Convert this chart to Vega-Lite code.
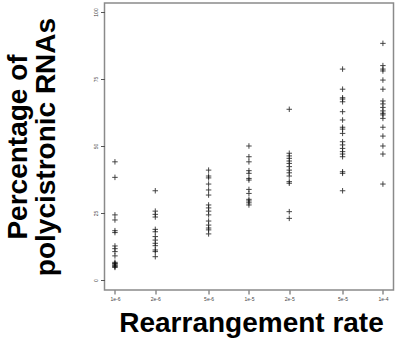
{
  "$schema": "https://vega.github.io/schema/vega-lite/v6.json",
  "width": 289,
  "height": 287,
  "autosize": {"type": "none"},
  "padding": {"left": 104.5, "top": 3, "right": 2.5, "bottom": 50},
  "background": "white",
  "config": {
    "view": {"stroke": "#8a8a8a", "strokeWidth": 1.5},
    "font": "Liberation Sans"
  },
  "data": {
    "values": [
      {"rate": 1e-6, "pct": 44.1}, {"rate": 1e-6, "pct": 38.3}, {"rate": 1e-6, "pct": 24.3}, {"rate": 1e-6, "pct": 22.4},
      {"rate": 1e-6, "pct": 18.4}, {"rate": 1e-6, "pct": 17.7}, {"rate": 1e-6, "pct": 12.7}, {"rate": 1e-6, "pct": 11.7},
      {"rate": 1e-6, "pct": 10.6}, {"rate": 1e-6, "pct": 9.0}, {"rate": 1e-6, "pct": 6.6}, {"rate": 1e-6, "pct": 6.2},
      {"rate": 1e-6, "pct": 6.0}, {"rate": 1e-6, "pct": 5.6}, {"rate": 1e-6, "pct": 5.3}, {"rate": 1e-6, "pct": 5.0},
      {"rate": 1e-6, "pct": 4.7},
      {"rate": 2e-6, "pct": 33.3}, {"rate": 2e-6, "pct": 25.7}, {"rate": 2e-6, "pct": 24.5}, {"rate": 2e-6, "pct": 23.5},
      {"rate": 2e-6, "pct": 18.9}, {"rate": 2e-6, "pct": 18.0}, {"rate": 2e-6, "pct": 16.2}, {"rate": 2e-6, "pct": 14.9},
      {"rate": 2e-6, "pct": 13.7}, {"rate": 2e-6, "pct": 12.8}, {"rate": 2e-6, "pct": 11.2}, {"rate": 2e-6, "pct": 10.6},
      {"rate": 2e-6, "pct": 8.7},
      {"rate": 5e-6, "pct": 41.0}, {"rate": 5e-6, "pct": 38.8}, {"rate": 5e-6, "pct": 38.1}, {"rate": 5e-6, "pct": 35.8},
      {"rate": 5e-6, "pct": 33.6}, {"rate": 5e-6, "pct": 31.7}, {"rate": 5e-6, "pct": 28.0}, {"rate": 5e-6, "pct": 26.9},
      {"rate": 5e-6, "pct": 25.7}, {"rate": 5e-6, "pct": 24.3}, {"rate": 5e-6, "pct": 22.0}, {"rate": 5e-6, "pct": 20.5},
      {"rate": 5e-6, "pct": 19.4}, {"rate": 5e-6, "pct": 18.7}, {"rate": 5e-6, "pct": 17.2},
      {"rate": 1e-5, "pct": 50.0}, {"rate": 1e-5, "pct": 46.0}, {"rate": 1e-5, "pct": 44.1}, {"rate": 1e-5, "pct": 40.8},
      {"rate": 1e-5, "pct": 39.8}, {"rate": 1e-5, "pct": 37.9}, {"rate": 1e-5, "pct": 37.3}, {"rate": 1e-5, "pct": 33.8},
      {"rate": 1e-5, "pct": 32.3}, {"rate": 1e-5, "pct": 30.1}, {"rate": 1e-5, "pct": 29.5}, {"rate": 1e-5, "pct": 28.8},
      {"rate": 1e-5, "pct": 28.0},
      {"rate": 2e-5, "pct": 63.7}, {"rate": 2e-5, "pct": 47.3}, {"rate": 2e-5, "pct": 46.3}, {"rate": 2e-5, "pct": 45.4},
      {"rate": 2e-5, "pct": 44.4}, {"rate": 2e-5, "pct": 43.5}, {"rate": 2e-5, "pct": 42.3}, {"rate": 2e-5, "pct": 41.0},
      {"rate": 2e-5, "pct": 40.0}, {"rate": 2e-5, "pct": 38.8}, {"rate": 2e-5, "pct": 36.7}, {"rate": 2e-5, "pct": 36.1},
      {"rate": 2e-5, "pct": 25.5}, {"rate": 2e-5, "pct": 23.0},
      {"rate": 5e-5, "pct": 78.7}, {"rate": 5e-5, "pct": 71.2}, {"rate": 5e-5, "pct": 68.0}, {"rate": 5e-5, "pct": 67.5},
      {"rate": 5e-5, "pct": 66.5}, {"rate": 5e-5, "pct": 62.8}, {"rate": 5e-5, "pct": 59.7}, {"rate": 5e-5, "pct": 57.0},
      {"rate": 5e-5, "pct": 56.3}, {"rate": 5e-5, "pct": 54.7}, {"rate": 5e-5, "pct": 51.6}, {"rate": 5e-5, "pct": 50.4},
      {"rate": 5e-5, "pct": 49.1}, {"rate": 5e-5, "pct": 47.9}, {"rate": 5e-5, "pct": 47.0}, {"rate": 5e-5, "pct": 46.0},
      {"rate": 5e-5, "pct": 40.4}, {"rate": 5e-5, "pct": 39.8}, {"rate": 5e-5, "pct": 33.3},
      {"rate": 1e-4, "pct": 88.3}, {"rate": 1e-4, "pct": 80.0}, {"rate": 1e-4, "pct": 78.7}, {"rate": 1e-4, "pct": 78.0},
      {"rate": 1e-4, "pct": 74.6}, {"rate": 1e-4, "pct": 71.2}, {"rate": 1e-4, "pct": 66.8}, {"rate": 1e-4, "pct": 65.7},
      {"rate": 1e-4, "pct": 64.4}, {"rate": 1e-4, "pct": 63.1}, {"rate": 1e-4, "pct": 62.2}, {"rate": 1e-4, "pct": 61.6},
      {"rate": 1e-4, "pct": 60.3}, {"rate": 1e-4, "pct": 57.0}, {"rate": 1e-4, "pct": 53.7}, {"rate": 1e-4, "pct": 50.0},
      {"rate": 1e-4, "pct": 47.0}, {"rate": 1e-4, "pct": 35.8}
    ]
  },
  "mark": {
    "type": "point",
    "shape": "M-1,0H1M0,-1V1",
    "size": 30,
    "filled": false,
    "stroke": "#111111",
    "strokeWidth": 0.9,
    "opacity": 0.85
  },
  "encoding": {
    "x": {
      "field": "rate",
      "type": "quantitative",
      "scale": {"type": "log", "domain": [8.356e-7, 1.1995e-4], "nice": false},
      "axis": {
        "title": "Rearrangement rate",
        "titleFont": "Liberation Sans",
        "titleFontSize": 28,
        "titleFontWeight": "bold",
        "titleColor": "#000000",
        "titleBaseline": "alphabetic",
        "titleY": 41,
        "titleX": 146.5,
        "values": [1e-6, 2e-6, 5e-6, 1e-5, 2e-5, 5e-5, 1e-4],
        "format": ".0e",
        "labelFontSize": 5,
        "labelColor": "#444444",
        "labelPadding": 2,
        "labelFlush": false,
        "labelOverlap": false,
        "tickSize": 4,
        "tickColor": "#555555",
        "domain": false,
        "grid": false
      }
    },
    "y": {
      "field": "pct",
      "type": "quantitative",
      "scale": {"domain": [-3.73, 103.36], "nice": false, "zero": false},
      "axis": {
        "title": ["Percentage of", "polycistronic RNAs"],
        "titleFont": "Liberation Sans",
        "titleFontSize": 28,
        "titleFontWeight": "bold",
        "titleColor": "#000000",
        "titleAngle": -90,
        "titleAlign": "center",
        "titleBaseline": "alphabetic",
        "titleLineHeight": 28,
        "titleX": -78.5,
        "titleY": 143.5,
        "values": [0, 25, 50, 75, 100],
        "labelAngle": -90,
        "labelAlign": "center",
        "labelBaseline": "bottom",
        "labelFontSize": 5,
        "labelColor": "#444444",
        "labelPadding": 2,
        "labelFlush": false,
        "tickSize": 4,
        "tickColor": "#555555",
        "domain": false,
        "grid": false
      }
    }
  }
}
